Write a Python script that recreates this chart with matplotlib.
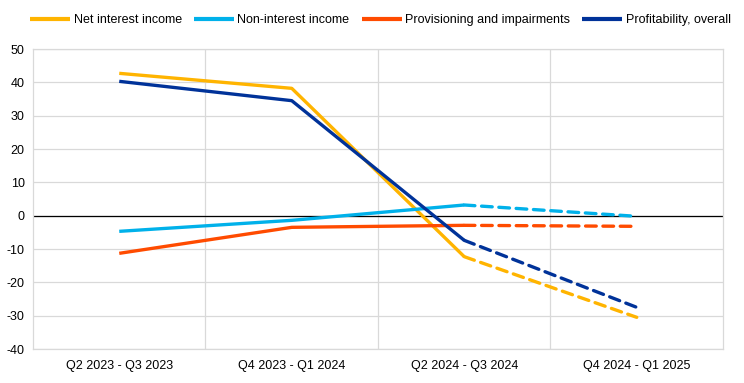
import matplotlib.pyplot as plt
import numpy as np

plt.rcParams['font.family'] = ['Liberation Sans', 'DejaVu Sans']
plt.rcParams['axes.unicode_minus'] = False

categories = ["Q2 2023 - Q3 2023", "Q4 2023 - Q1 2024", "Q2 2024 - Q3 2024", "Q4 2024 - Q1 2025"]
net_interest = [42.7, 38.2, -12.3, -30.5]
non_interest = [-4.7, -1.4, 3.2, -0.2]
provisioning = [-11.3, -3.5, -2.9, -3.2]
profitability = [40.3, 34.5, -7.4, -27.5]

series = [
    ("Net interest income", net_interest, "#FFB400"),
    ("Non-interest income", non_interest, "#00B1EA"),
    ("Provisioning and impairments", provisioning, "#FF4B00"),
    ("Profitability, overall", profitability, "#003299"),
]

fig = plt.figure(figsize=(7.44, 3.83), dpi=100)
ax = fig.add_axes([33/744, 1-349/383, 690/744, 300/383])

x = np.arange(len(categories))
handles = []
for name, vals, col in series:
    h, = ax.plot(x[:3], vals[:3], color=col, lw=2.4, solid_capstyle='butt', solid_joinstyle='round', zorder=3)
    # last period is a projection -> dashed
    ax.plot(x[2:], vals[2:], color=col, lw=2.4, ls=(0, (3.2, 2.0)), dash_capstyle='round', zorder=3)
    handles.append(h)

ax.axhline(0, color='black', lw=0.9, zorder=2)

ax.set_xlim(-0.5, 3.5)
ax.set_ylim(-40, 50)
ax.set_yticks(np.arange(-40, 51, 10))
ax.set_xticks(x)
ax.set_xticklabels(categories)
ax.set_xticks([0.5, 1.5, 2.5], minor=True)
ax.grid(True, axis='y', color='#D9D9D9', lw=0.9)
ax.grid(True, axis='x', which='minor', color='#D9D9D9', lw=0.9)
ax.set_axisbelow(True)
ax.tick_params(axis='both', which='both', length=0, labelsize=9, colors='#000000')
ax.tick_params(axis='x', pad=8)
ax.tick_params(axis='y', pad=6)
for s in ax.spines.values():
    s.set_color('#D9D9D9')
    s.set_linewidth(0.9)

leg = fig.legend(handles, [s[0] for s in series], loc='center', bbox_to_anchor=(380.5/744, 1-20/383),
                 ncol=4, frameon=False, fontsize=9, handlelength=3.2, handletextpad=0.25,
                 columnspacing=1.0)
for l in leg.get_lines():
    l.set_linewidth(3)

fig.savefig("out.png", dpi=100)
